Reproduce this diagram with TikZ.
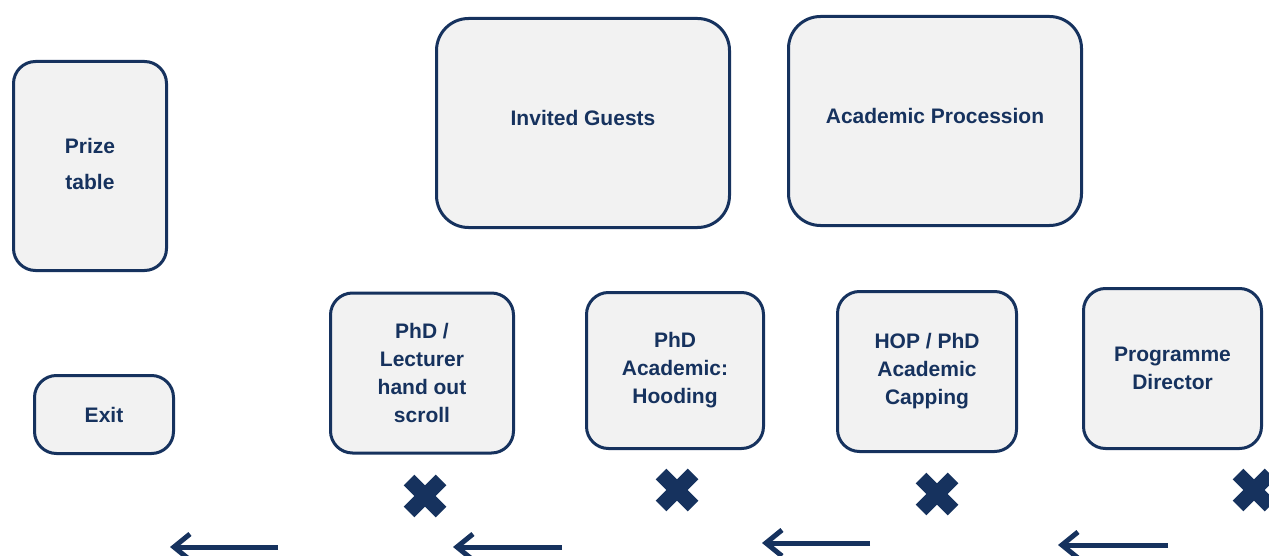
\documentclass[tikz,border=0pt]{standalone}
\usepackage{fontspec}
\setmainfont{Liberation Sans}
\usetikzlibrary{arrows.meta}
\definecolor{navy}{RGB}{22,50,94}
\definecolor{boxgrey}{RGB}{242,242,242}
\begin{document}
\begin{tikzpicture}[x=0.5pt,y=-0.5pt]
    \tikzstyle{box} = [draw=navy, fill=boxgrey, shape=rectangle, rounded corners=11pt, line width=1.5pt, text=navy, font=\fontsize{10.5}{14}\selectfont\bfseries, align=center, inner sep=0pt]
    \tikzstyle{bigbox} = [box, minimum width=146.5pt, minimum height=104.5pt, rounded corners=16pt]
    \tikzstyle{duty} = [box, minimum width=89.5pt, minimum height=80pt]
    \tikzstyle{walk} = [draw=navy, line width=2.5pt, -{Straight Barb[length=8pt,width=13pt]}]
    \tikzset{stopmark/.pic={\draw [navy, line width=7.5pt] (-16,-16) -- (16,16) (-16,16) -- (16,-16);}}

    \useasboundingbox (0,0) rectangle (1269,556);

    \node [box, minimum width=76.5pt, minimum height=104.5pt] at (90,166) (prize) {\raisebox{2pt}{\begin{tabular}{@{}c@{}}Prize\\[4pt]table\end{tabular}}};
    \node [box, minimum width=69.5pt, minimum height=39pt] at (104,414.5) (exit) {Exit};
    \node [bigbox] at (583,123) (guests) {\raisebox{5pt}{Invited Guests}};
    \node [bigbox] at (935,121) (procession) {\raisebox{5pt}{Academic Procession}};

    \node [duty, minimum width=91.5pt] at (422,373) (scroll) {PhD /\\Lecturer\\hand out\\scroll};
    \node [duty, minimum width=88.5pt, minimum height=78pt] at (675,370.5) (hooding) {PhD\\Academic:\\Hooding};
    \node [duty] at (927,371.5) (capping) {HOP / PhD\\Academic\\Capping};
    \node [duty, minimum width=89pt] at (1172.5,368.5) (director) {Programme\\Director};

    % stand points
    \pic at (425,496) {stopmark};
    \pic at (677,490) {stopmark};
    \pic at (937,494) {stopmark};
    \pic at (1254,490) {stopmark};

    % walking direction
    \coordinate (w1s) at (278,547); \coordinate (w1e) at (170,547);
    \coordinate (w2s) at (562,547); \coordinate (w2e) at (453,547);
    \coordinate (w3s) at (870,543); \coordinate (w3e) at (762,543);
    \coordinate (w4s) at (1168,545); \coordinate (w4e) at (1058,545);
    \draw [walk] (w1s) -- (w1e);
    \draw [walk] (w2s) -- (w2e);
    \draw [walk] (w3s) -- (w3e);
    \draw [walk] (w4s) -- (w4e);
\end{tikzpicture}
\end{document}
